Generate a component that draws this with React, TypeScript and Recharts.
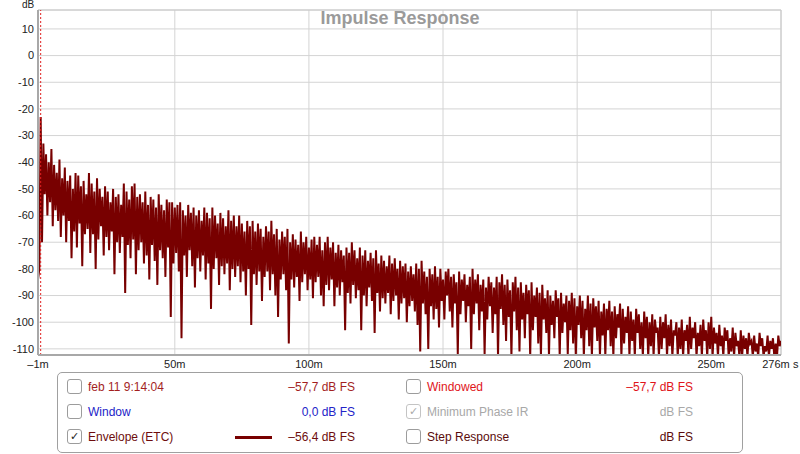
import React from 'react';
import { LineChart, Line, XAxis, YAxis, CartesianGrid, ReferenceLine } from 'recharts';

// Envelope (ETC) peak values, one per ms, t = -1 .. 276 ms
const etcPeaks: number[] = [
  -84, -23, -33, -37, -40, -35, -41, -44, -39, -46,
  -42, -47, -45, -50, -44, -45, -49, -47, -52, -44,
  -48, -51, -46, -50, -53, -49, -51, -55, -50, -53,
  -52, -56, -48, -51, -54, -49, -48, -53, -52, -55,
  -51, -56, -53, -54, -57, -52, -56, -58, -54, -55,
  -55, -57, -56, -55, -58, -60, -56, -59, -57, -60,
  -58, -62, -57, -59, -61, -57, -60, -63, -59, -61,
  -64, -58, -62, -60, -64, -60, -63, -66, -62, -64,
  -62, -66, -63, -65, -68, -64, -66, -62, -67, -65,
  -69, -66, -68, -65, -70, -67, -69, -71, -66, -70,
  -68, -72, -69, -68, -71, -68, -73, -70, -68, -72,
  -70, -74, -71, -73, -75, -72, -74, -70, -73, -76,
  -72, -75, -73, -77, -74, -76, -73, -78, -75, -77,
  -79, -75, -78, -76, -80, -77, -79, -78, -81, -79,
  -82, -78, -80, -77, -81, -83, -80, -82, -79, -83,
  -80, -84, -81, -80, -83, -82, -85, -81, -84, -82,
  -86, -83, -80, -84, -82, -86, -84, -87, -83, -85,
  -87, -83, -85, -82, -86, -84, -88, -85, -83, -87,
  -85, -89, -86, -88, -85, -90, -87, -89, -86, -91,
  -88, -90, -92, -88, -91, -89, -93, -90, -92, -89,
  -91, -94, -90, -92, -95, -90, -93, -91, -94, -92,
  -96, -93, -95, -92, -96, -94, -97, -93, -95, -98,
  -94, -96, -99, -95, -97, -100, -96, -98, -100, -97,
  -99, -102, -98, -100, -97, -101, -99, -103, -100, -102,
  -99, -103, -101, -98, -102, -100, -104, -101, -99, -103,
  -100, -98, -102, -104, -101, -105, -102, -103, -106, -102,
  -104, -107, -103, -105, -106, -104, -107, -105, -108, -104,
  -106, -109, -105, -107, -106, -108, -105, -107,
];

// Envelope (ETC) trough values, one per ms, at t = -0.5 .. 276.5 ms
const etcTroughs: number[] = [
  -80, -70, -52, -60, -55, -64, -58, -62, -68, -60,
  -70, -62, -76, -66, -72, -63, -79, -67, -65, -74,
  -67, -80, -69, -64, -75, -68, -73, -66, -82, -70,
  -74, -68, -89, -71, -76, -69, -82, -73, -70, -78,
  -75, -84, -71, -77, -86, -73, -76, -83, -72, -98,
  -78, -74, -81, -106, -75, -83, -73, -79, -87, -76,
  -81, -75, -84, -78, -95, -80, -76, -86, -79, -82,
  -78, -88, -80, -83, -79, -85, -81, -90, -80, -101,
  -82, -86, -81, -92, -83, -81, -88, -82, -90, -98,
  -84, -82, -88, -108, -84, -87, -83, -92, -85, -82,
  -88, -84, -91, -85, -83, -90, -94, -86, -88, -84,
  -94, -87, -90, -85, -103, -89, -93, -86, -91, -88,
  -103, -90, -94, -87, -92, -104, -89, -96, -91, -93,
  -89, -97, -92, -90, -99, -93, -91, -100, -94, -92,
  -96, -101, -111, -93, -97, -110, -94, -99, -95, -102,
  -92, -99, -90, -96, -102, -93, -112, -97, -92, -100,
  -94, -110, -97, -93, -103, -96, -112, -99, -94, -104,
  -97, -113, -95, -101, -107, -98, -113, -96, -103, -111,
  -99, -106, -97, -113, -103, -98, -108, -113, -99, -104,
  -113, -101, -106, -98, -113, -104, -100, -112, -103, -108,
  -113, -101, -106, -113, -103, -109, -113, -102, -107, -113,
  -105, -113, -103, -109, -113, -106, -102, -113, -108, -104,
  -113, -107, -113, -104, -110, -113, -106, -113, -109, -113,
  -104, -113, -110, -106, -113, -109, -113, -105, -113, -110,
  -113, -107, -113, -110, -106, -113, -109, -113, -107, -113,
  -110, -113, -108, -113, -109, -113, -107, -113, -111, -113,
  -109, -113, -113, -110, -113, -108, -113, -111, -113, -109,
  -113, -111, -113, -110, -113, -113, -109, -111,
];

const startMs = -1;
const xTicks: number[] = [-1, 50, 100, 150, 200, 250, 276];
const xTickLabels: string[] = ['\u20131m', '50m', '100m', '150m', '200m', '250m', '276m'];
const yTicks: number[] = [10, 0, -10, -20, -30, -40, -50, -60, -70, -80, -90, -100, -110];

const data: { t: number; v: number }[] = [];
etcPeaks.forEach((p, i) => {
  const t = startMs + i;
  data.push({ t, v: p });
  if (t + 0.5 <= 276) data.push({ t: t + 0.5, v: etcTroughs[i] });
});

const FONT = '"Lucida Grande", "Liberation Sans", Arial, sans-serif';
const LINE_COLOR = '#780000';

const XTick = (props: any) => {
  const { x, y, payload } = props;
  const idx = xTicks.indexOf(payload.value);
  const dx = payload.value === 276 ? -5 : 0;
  return (
    <text x={x + dx} y={y} dy="0.71em" textAnchor="middle" fontSize={11} fill="#222" fontFamily={FONT}>
      {idx >= 0 ? xTickLabels[idx] : payload.value}
    </text>
  );
};

const YTick = (props: any) => {
  const { x, y, payload } = props;
  return (
    <text x={x} y={y} dy="0.355em" textAnchor="end" fontSize={11} fill="#222" fontFamily={FONT}>
      {payload.value}
    </text>
  );
};

const Checkbox = ({ left, top, checked, gray }: { left: number; top: number; checked?: boolean; gray?: boolean }) => (
  <div
    style={{
      position: 'absolute',
      left,
      top,
      width: 13,
      height: 13,
      border: `1px solid ${gray ? '#c4c4c4' : '#9c9c9c'}`,
      borderRadius: 3,
      background: '#fff',
      fontSize: 11,
      lineHeight: '13px',
      textAlign: 'center',
      color: gray ? '#aaa' : '#222',
      fontFamily: FONT,
    }}
  >
    {checked ? '\u2713' : ''}
  </div>
);

const Txt = ({ left, right, top, color, children }: any) => (
  <div
    style={{
      position: 'absolute',
      left,
      right,
      top,
      color,
      fontSize: 12,
      fontFamily: FONT,
      lineHeight: '14px',
      whiteSpace: 'nowrap',
    }}
  >
    {children}
  </div>
);

export default function App() {
  return (
    <div style={{ position: 'absolute', left: 0, top: 0, width: 800, height: 454, background: '#fff', overflow: 'hidden' }}>
      <LineChart width={800} height={370} data={data} margin={{ top: 10, right: 19, left: 0, bottom: 0 }}>
        <CartesianGrid stroke="#d4d4d4" strokeWidth={1} />
        <XAxis
          dataKey="t"
          type="number"
          domain={[-1, 276]}
          ticks={xTicks}
          allowDataOverflow
          tickLine={false}
          tickSize={0}
          tickMargin={5}
          height={15}
          axisLine={{ stroke: '#a8a8a8', strokeWidth: 2 }}
          tick={<XTick />}
          interval={0}
        />
        <YAxis
          type="number"
          domain={[-112.3, 17.1]}
          ticks={yTicks}
          allowDataOverflow
          tickLine={false}
          tickSize={0}
          tickMargin={4}
          width={38}
          axisLine={{ stroke: '#a8a8a8', strokeWidth: 2 }}
          tick={<YTick />}
          interval={0}
        />
        <ReferenceLine y={17.1} stroke="#c8c8c8" />
        <ReferenceLine x={276} stroke="#c8c8c8" />
        <Line
          dataKey="v"
          type="linear"
          stroke={LINE_COLOR}
          strokeWidth={2}
          strokeLinejoin="miter"
          dot={false}
          isAnimationActive={false}
        />
        <ReferenceLine x={0} stroke="#e02020" strokeDasharray="2 2" strokeWidth={1} />
      </LineChart>

      <div style={{ position: 'absolute', left: 0, width: 800, top: 8, textAlign: 'center', fontFamily: FONT, fontWeight: 'bold', fontSize: 18, color: '#9a9a9a' }}>
        Impulse Response
      </div>
      <div style={{ position: 'absolute', left: 22, top: -1, fontFamily: FONT, fontSize: 10, color: '#222' }}>dB</div>
      <div style={{ position: 'absolute', left: 793, top: 358, fontFamily: FONT, fontSize: 11, color: '#222' }}>s</div>

      <div
        style={{
          position: 'absolute',
          left: 57,
          top: 372,
          width: 684,
          height: 79,
          border: '1px solid #a0a0a0',
          borderRadius: 5,
          background: '#fff',
        }}
      />
      <Checkbox left={67} top={379} />
      <Checkbox left={67} top={404} />
      <Checkbox left={67} top={429} checked />
      <Checkbox left={406} top={379} />
      <Checkbox left={406} top={404} checked gray />
      <Checkbox left={406} top={429} />

      <Txt left={88} top={380} color="#a31f1f">feb 11 9:14:04</Txt>
      <Txt left={88} top={405} color="#2323c8">Window</Txt>
      <Txt left={88} top={430} color="#6e0d0d">Envelope (ETC)</Txt>
      <div style={{ position: 'absolute', left: 235, top: 436, width: 37, height: 3, background: LINE_COLOR }} />
      <Txt right={800 - 355} top={380} color="#a31f1f">{'\u201357,7 dB FS'}</Txt>
      <Txt right={800 - 355} top={405} color="#2323c8">0,0 dB FS</Txt>
      <Txt right={800 - 355} top={430} color="#6e0d0d">{'\u201356,4 dB FS'}</Txt>

      <Txt left={427} top={380} color="#e0141a">Windowed</Txt>
      <Txt left={427} top={405} color="#a8a8a8">Minimum Phase IR</Txt>
      <Txt left={427} top={430} color="#5a0b0b">Step Response</Txt>
      <Txt right={800 - 693} top={380} color="#e0141a">{'\u201357,7 dB FS'}</Txt>
      <Txt right={800 - 693} top={405} color="#a8a8a8">dB FS</Txt>
      <Txt right={800 - 693} top={430} color="#5a0b0b">dB FS</Txt>
    </div>
  );
}
